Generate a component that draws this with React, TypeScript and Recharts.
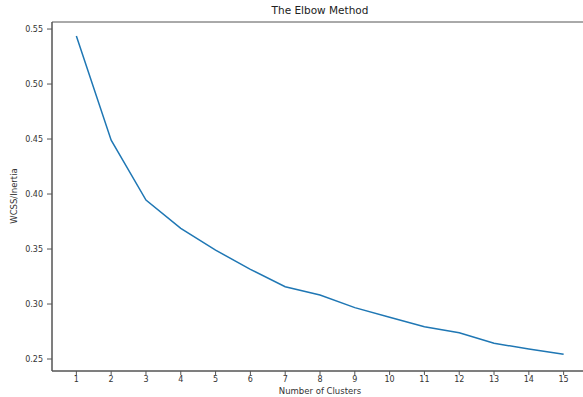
import React from "react";
import {
    LineChart,
    Line,
    XAxis,
    YAxis,
    ReferenceArea
} from "recharts";

const clusters = [1, 2, 3, 4, 5, 6, 7, 8, 9, 10, 11, 12, 13, 14, 15];
const wcss = [0.5436, 0.449, 0.3945, 0.3688, 0.349, 0.3315, 0.3157, 0.3082, 0.2967, 0.2879, 0.2794, 0.2739, 0.2643, 0.2591, 0.2543];
const yTicks = [0.25, 0.3, 0.35, 0.4, 0.45, 0.5, 0.55];

const data = clusters.map((k, i) => ({k, wcss: wcss[i]}));

const font = "'DejaVu Sans', sans-serif";
const ink = "#333";
const spine = "#555";

const App = () => {
    return (
        <div style={{position: "absolute", top: 0, left: 0, width: 583, height: 397, overflow: "hidden", background: "#fff", fontFamily: font}}>
            <LineChart width={600} height={397} data={data}
                       margin={{top: 22, right: 12, bottom: 0, left: 0}}>
                <XAxis dataKey="k" type="number" domain={[0.3, 15.7]} ticks={clusters}
                       allowDataOverflow height={26} tickSize={4} tickMargin={1}
                       stroke={spine} tick={{fill: ink, fontSize: 8, fontFamily: font}}/>
                <YAxis type="number" domain={[0.2391, 0.5564]} ticks={yTicks}
                       allowDataOverflow width={52} tickSize={5} tickMargin={4}
                       tickFormatter={(v: number) => v.toFixed(2)}
                       stroke={spine} tick={{fill: ink, fontSize: 8, fontFamily: font}}/>
                <ReferenceArea x1={0.3} x2={15.7} y1={0.2391} y2={0.5564}
                               stroke={spine} strokeOpacity={1} fill="none" ifOverflow="visible"/>
                <Line type="linear" dataKey="wcss" stroke="#1f77b4" strokeWidth={1.5}
                      dot={false} isAnimationActive={false}/>
            </LineChart>
            <div style={{position: "absolute", top: 4, left: 0, width: 640, textAlign: "center", fontSize: 10.5, color: "#222"}}>
                The Elbow Method
            </div>
            <div style={{position: "absolute", top: 386, left: 0, width: 640, textAlign: "center", fontSize: 8.5, lineHeight: "10px", color: ink}}>
                Number of Clusters
            </div>
            <div style={{position: "absolute", top: 196, left: 14, width: 0, height: 0}}>
                <div style={{position: "absolute", transform: "translate(-50%, -50%) rotate(-90deg)", whiteSpace: "nowrap", fontSize: 8.5, color: ink}}>
                    WCSS/Inertia
                </div>
            </div>
        </div>
    );
}

export default App;
